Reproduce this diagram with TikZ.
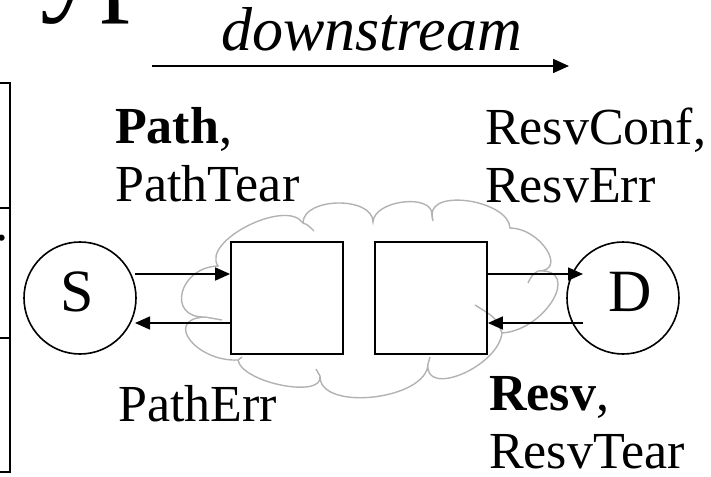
\documentclass[tikz,border=0pt]{standalone}
\usepackage{fontspec}
\setmainfont{Liberation Serif}
\usetikzlibrary{arrows.meta}
\definecolor{cloudgray}{RGB}{178,178,178}
\tikzset{
  body/.style={font=\fontsize{52}{58}\selectfont, inner sep=0pt, align=left, anchor=base west},
  endpoint/.style={circle, draw, line width=1.6pt, minimum size=112pt, inner sep=0pt},
  letter/.style={font=\fontsize{60}{60}\selectfont, inner sep=0pt},
  router/.style={draw, line width=1.8pt, minimum size=112pt, inner sep=0pt},
  arr/.style={line width=1.6pt, -{Triangle[length=15pt,width=13pt]}},
  cloudline/.style={draw=cloudgray, line width=1.4pt},
  frame/.style={line width=1.3pt},
}
\begin{document}
\begin{tikzpicture}[x=1pt,y=-1pt]
\useasboundingbox (0,0) rectangle (711,476);
\begin{scope}
\clip (0,0) rectangle (711,476);
% cut-off title
\node[font=\fontsize{120}{120}\selectfont, inner sep=0pt, anchor=base west] (title) at (-25,-1) {Types};
% cut-off table at left
\draw[frame] (0,83) -- (10,83) -- (10,472) -- (0,472);
\draw[frame] (0,208) -- (10,208);
\draw[frame] (0,338) -- (10,338);
\node[font=\fontsize{52}{52}\selectfont, inner sep=0pt, anchor=base west] (dot) at (-5,240) {.};
\end{scope}

% downstream arrow
\node[font=\fontsize{62}{62}\selectfont\itshape, inner sep=0pt, anchor=base west] (ds) at (221,51) {downstream};
\coordinate (dsa) at (152,66);
\coordinate (dsb) at (569,66);
\draw[line width=1.6pt, -{Triangle[length=16pt,width=14pt]}] (dsa) -- (dsb);

% cloud
\draw[cloudline] (218,266)
 .. controls (201,241) and (286,198) .. (303,223)
 .. controls (303,197) and (373,196) .. (373,222)
 .. controls (374,200) and (433,193) .. (432,215)
 .. controls (431,188) and (509,201) .. (510,228)
 .. controls (540,228) and (568,271) .. (538,271)
 .. controls (582,268) and (546,330) .. (502,333)
 .. controls (498,367) and (424,398) .. (428,364)
 .. controls (427,400) and (319,412) .. (320,376)
 .. controls (324,399) and (242,383) .. (238,360)
 .. controls (196,362) and (163,319) .. (205,317)
 .. controls (166,318) and (179,267) .. (218,266) -- cycle;
\draw[cloudline] (303,223) .. controls (308,225) .. (314,231);
\draw[cloudline] (205,317) .. controls (214,318) .. (222,320);
\draw[cloudline] (238,360) -- (242,357);
\draw[cloudline] (320,376) -- (316,369);
\draw[cloudline] (428,364) -- (430,357);
\draw[cloudline] (502,333) .. controls (496,318) .. (475,305);
\draw[cloudline] (538,271) .. controls (532,275) .. (528,283);
\draw[cloudline] (432,215) -- (433,221);

% nodes
\node[endpoint] (S) at (80,298) {};
\node[letter] (Sl) at (77,292) {S};
\node[endpoint] (D) at (623,298) {};
\node[letter] (Dl) at (630,292) {D};
\node[router] (R1) at (287,298) {};
\node[router] (R2) at (431,298) {};

% connectors
\coordinate (s1) at (135,274);
\coordinate (s2) at (135,323);
\coordinate (d1) at (583,274);
\coordinate (d2) at (583,323);
\draw[arr] (s1) -- (R1.west |- s1);
\draw[arr] (R1.west |- s2) -- (s2);
\draw[arr] (R2.east |- d1) -- (d1);
\draw[arr] (d2) -- (R2.east |- d2);

% labels (base anchor = baseline of the last line)
\node[body] (pathlbl) at (115,201) {\textbf{Path},\\PathTear};
\node[body] (resvconf) at (485,202) {ResvConf,\\ResvErr};
\node[body] (patherr) at (118,421) {PathErr};
\node[body, text depth=0pt] (resvlbl) at (489,468) {\textbf{Resv},\\ResvTear};
\end{tikzpicture}
\end{document}
